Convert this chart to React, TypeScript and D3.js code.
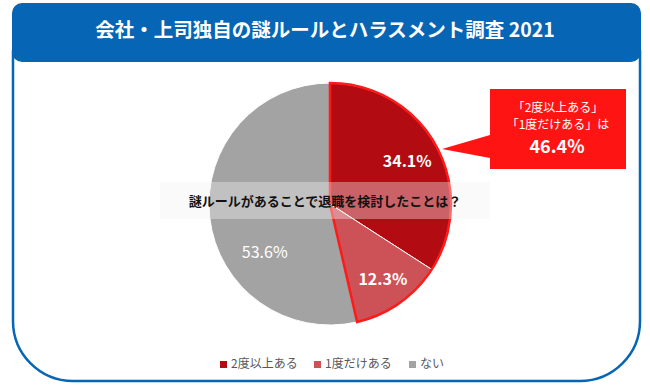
import React from "react";
import * as d3 from "d3";

// chart data
const categories = ["2度以上ある", "1度だけある", "ない"];
const values = [34.1, 12.3, 53.6];
const colors = ["#b20b12", "#cd5257", "#a3a3a3"];
const titleText = "会社・上司独自の謎ルールとハラスメント調査 2021";
const questionText = "謎ルールがあることで退職を検討したことは？";
const calloutLines = ["「2度以上ある」", "「1度だけある」は"];
const calloutValue = "46.4%";

const W = 650;
const H = 387;
const blue = "#0665b5";

const App = () => {
  const cx = 330;
  const cy = 204;
  const r = 121;

  /* pie layout, clockwise from 12 o'clock, no sorting */
  const pie = d3
    .pie<number>()
    .sort(null)
    .value((d) => d);
  const arcs = pie(values);
  const arc = d3.arc<d3.PieArcDatum<number>>().innerRadius(0).outerRadius(r);

  /* outline around the two "ある" slices */
  const groupEnd = arcs[1].endAngle;
  const outline = d3.arc()({
    innerRadius: 0,
    outerRadius: r,
    startAngle: 0,
    endAngle: groupEnd,
  } as any);

  /* label placement: radius and angle shift per slice */
  const labelRadius = [88, 92, 81];
  const labelShift = [0, 0, -0.52];
  const labelBold = [true, true, false];

  /* legend layout */
  const legendX = [220, 314, 409];
  const legendY = 364;

  return (
    <svg
      width={W}
      height={H}
      style={{ position: "absolute", left: 0, top: 0, background: "#fff" }}
      fontFamily="'Noto Sans CJK JP', 'Noto Sans', sans-serif"
    >
      {/* body frame */}
      <path
        d={`M13,50 L13,321 A60,60 0 0 0 73,381 L580,381 A60,60 0 0 0 640,321 L640,50`}
        fill="none"
        stroke={blue}
        strokeWidth={2.5}
      />
      {/* header */}
      <rect x={12} y={3} width={629} height={59} rx={10} fill={blue} />
      <text
        x={325}
        y={37}
        textAnchor="middle"
        fill="#fff"
        fontSize={19.5}
        fontWeight="bold"
      >
        {titleText}
      </text>

      {/* pie */}
      <g transform={`translate(${cx},${cy})`}>
        {arcs.map((a, i) => (
          <path
            key={i}
            d={arc(a) || ""}
            fill={colors[i]}
            stroke="#fff"
            strokeWidth={1}
          />
        ))}
        <path d={outline || ""} fill="none" stroke="#ff1a1a" strokeWidth={2.5} />
      </g>

      {/* question band */}
      <rect x={160} y={182} width={330} height={37} fill="#f2f2f2" opacity={0.38} />
      <text
        x={325}
        y={206}
        textAnchor="middle"
        fill="#111"
        fontSize={13}
        fontWeight="bold"
      >
        {questionText}
      </text>

      {/* slice labels */}
      <g transform={`translate(${cx},${cy})`}>
        {arcs.map((a, i) => {
          const ang = (a.startAngle + a.endAngle) / 2 + labelShift[i];
          const lx = Math.sin(ang) * labelRadius[i];
          const ly = -Math.cos(ang) * labelRadius[i];
          return (
            <text
              key={i}
              x={lx}
              y={ly}
              dy="0.35em"
              textAnchor="middle"
              fill="#fff"
              fontSize={16}
              fontWeight={labelBold[i] ? "bold" : "normal"}
            >
              {values[i].toFixed(1)}%
            </text>
          );
        })}
      </g>

      {/* callout */}
      <path d="M490,89 L626,89 L626,169 L490,169 L490,158 L442,149 L490,135 Z" fill="#ff1414" />
      {calloutLines.map((t, i) => (
        <text
          key={i}
          x={558}
          y={112 + i * 17}
          textAnchor="middle"
          fill="#fff"
          fontSize={12}
        >
          {t}
        </text>
      ))}
      <text
        x={557}
        y={153}
        textAnchor="middle"
        fill="#fff"
        fontSize={18}
        fontWeight="bold"
      >
        {calloutValue}
      </text>

      {/* legend */}
      {categories.map((c, i) => (
        <g key={c} transform={`translate(${legendX[i]},${legendY})`}>
          <rect x={0} y={-3} width={7} height={7} fill={colors[i]} />
          <text x={11} y={0} dy="0.35em" fill="#595959" fontSize={12}>
            {c}
          </text>
        </g>
      ))}
    </svg>
  );
};

export default App;
